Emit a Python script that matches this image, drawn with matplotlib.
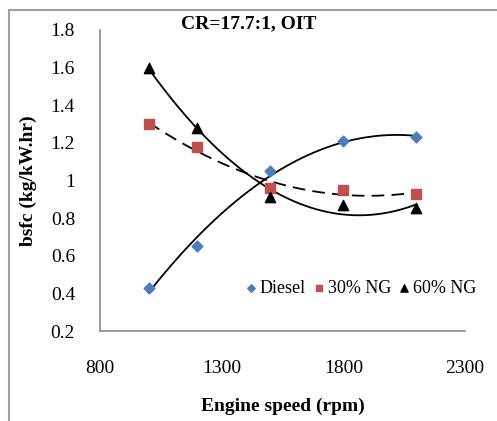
import numpy as np
import matplotlib.pyplot as plt
from matplotlib.lines import Line2D

plt.rcParams['font.family'] = ['Liberation Serif', 'DejaVu Serif']

# data
speed = [1000, 1200, 1500, 1800, 2100]
diesel = [0.43, 0.65, 1.05, 1.21, 1.23]
ng30 = [1.30, 1.18, 0.96, 0.95, 0.93]
ng60 = [1.60, 1.28, 0.91, 0.87, 0.855]

fig = plt.figure(figsize=(4.97, 4.21), dpi=100)
ax = fig.add_axes([100/497, 1-331/421, 365/497, 301/421])

# outer chart frame (left and top edges visible)
fx, fy = 8.5/497, 1-10/421
fig.lines.append(Line2D([fx, fx], [0, fy], transform=fig.transFigure, color='#a0a0a0', lw=1.5))
fig.lines.append(Line2D([fx, 1], [fy, fy], transform=fig.transFigure, color='#a0a0a0', lw=1.5))

# excel style polynomial trendlines (order 2)
xs = np.linspace(speed[0], speed[-1], 200)
for y, ls in [(diesel, '-'), (ng30, (0, (7, 4))), (ng60, '-')]:
    c = np.polyfit(speed, y, 2)
    ax.plot(xs, np.polyval(c, xs), color='black', lw=1.3, ls=ls, zorder=2)

ax.scatter(speed, diesel, marker='D', s=30, color='#4a7ebb', label='Diesel', zorder=3)
ax.scatter(speed, ng30, marker='s', s=50, color='#c0504d', label='30% NG', zorder=3)
ax.scatter(speed, ng60, marker='^', s=55, color='black', label='60% NG', zorder=3)

ax.set_xlim(800, 2300)
ax.set_ylim(0.2, 1.8)
ax.set_xticks([800, 1300, 1800, 2300])
ax.set_yticks([0.2, 0.4, 0.6, 0.8, 1.0, 1.2, 1.4, 1.6, 1.8])
ax.set_yticklabels(['0.2', '0.4', '0.6', '0.8', '1', '1.2', '1.4', '1.6', '1.8'])
ax.tick_params(length=0, labelsize=14)
ax.tick_params(axis='x', pad=21)
ax.tick_params(axis='y', pad=18)
for s in ['top', 'right']:
    ax.spines[s].set_visible(False)
for s in ['left', 'bottom']:
    ax.spines[s].set_color('#8c8c8c')
    ax.spines[s].set_linewidth(1.2)

ax.set_xlabel('Engine speed (rpm)', fontsize=14, fontweight='bold', labelpad=15)
ax.set_ylabel('bsfc (kg/kW.hr)', fontsize=14, fontweight='bold', labelpad=10)
fig.text(249/497, 1-24/421, 'CR=17.7:1, OIT', fontsize=14, fontweight='bold',
         ha='center', va='center')

ax.legend(loc='lower right', bbox_to_anchor=(1.05, 0.09), ncol=3, frameon=False, fontsize=13,
          handlelength=0.8, handletextpad=0.1, columnspacing=0.3, markerscale=0.7,
          borderaxespad=0)

fig.savefig('out.png', dpi=100)
